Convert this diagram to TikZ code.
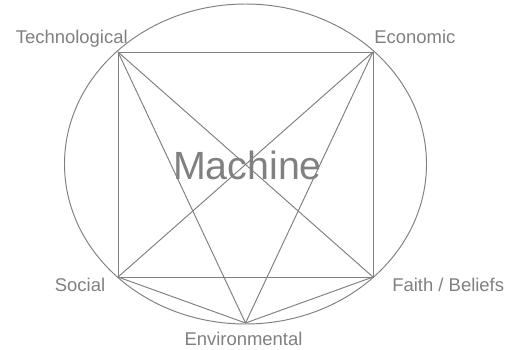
\documentclass[tikz,border=0pt]{standalone}
\usepackage{fontspec}
\setmainfont{Liberation Sans}
\usepackage{tikz}
\usetikzlibrary{positioning}

\definecolor{linegray}{RGB}{128,128,128}
\tikzset{
  edge/.style={draw=linegray, line width=0.55pt},
  factor/.style={text=linegray, inner sep=0pt, font=\fontsize{10.5pt}{12pt}\selectfont},
}

\begin{document}
\begin{tikzpicture}[x=0.02cm, y=-0.02cm]
    \useasboundingbox (0,0) rectangle (508,349);
    % Outer ellipse
    \draw[edge] (245.5,164) ellipse (181 and 160);
    % Corners of the pentagon
    \coordinate (tech) at (118,52);
    \coordinate (econ) at (373,52);
    \coordinate (soc) at (118,277);
    \coordinate (faith) at (373,277);
    \coordinate (env) at (245.5,323);
    % Every pair joined
    \draw[edge] (tech) -- (econ) -- (faith) -- (soc) -- cycle;
    \draw[edge] (tech) -- (faith);
    \draw[edge] (econ) -- (soc);
    \draw[edge] (tech) -- (env) -- (econ);
    \draw[edge] (soc) -- (env) -- (faith);
    % Labels
    \node[factor, anchor=base east] (techlabel) at (128,43.5) {Technological};
    \node[factor, anchor=base west] (econlabel) at (374,43.5) {Economic};
    \node[factor, anchor=base] (soclabel) at (80,291.5) {Social};
    \node[factor, anchor=base west] (faithlabel) at (392,291.5) {Faith / Beliefs};
    \node[factor, anchor=base] (envlabel) at (243.5,345) {Environmental};
    % Centre text
    \node[text=linegray, inner sep=0pt, anchor=base, font=\fontsize{22.4pt}{26pt}\selectfont] (machine) at (247.5,179) {Machine};
\end{tikzpicture}
\end{document}
